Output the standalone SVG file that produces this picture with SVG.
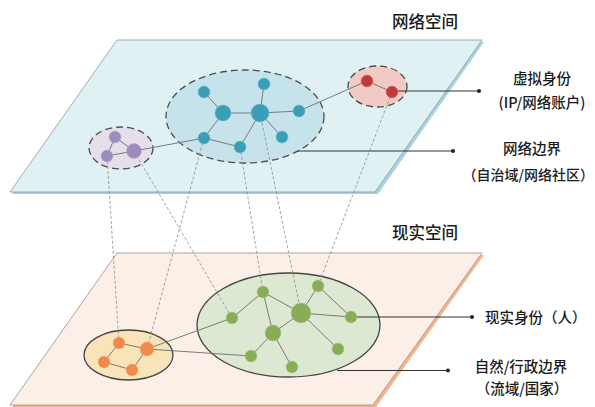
<svg xmlns="http://www.w3.org/2000/svg" width="595" height="407" viewBox="0 0 595 407">
  <style>
    .title { font-family: "Noto Sans CJK SC", "Noto Sans", sans-serif; font-size: 16.5px; font-weight: 500; fill: #1a1a1a; }
    .label { font-family: "Noto Sans CJK SC", "Noto Sans", sans-serif; font-size: 14.5px; font-weight: 500; fill: #1a1a1a; }
    .edge { stroke: #7a7a7a; stroke-width: 1; fill: none; }
    .link { stroke: #8a8a8a; stroke-width: 0.8; stroke-dasharray: 3 2; fill: none; }
    .leader { stroke: #333; stroke-width: 1.2; fill: none; }
    .dot { fill: #222; }
    .zone-dash { stroke: #4d4d4d; stroke-width: 1.3; stroke-dasharray: 7 4; }
    .zone-solid { stroke: #444; stroke-width: 1.3; }
    .cyan { fill: #3a9fb6; stroke: #6dbccc; stroke-width: 0.6; }
    .purple { fill: #9c8bbd; stroke: #bcaed6; stroke-width: 0.6; }
    .red { fill: #c03a3c; stroke: #d97a78; stroke-width: 0.6; }
    .orange { fill: #ee8a4a; stroke: #f5b184; stroke-width: 0.6; }
    .green { fill: #88ad58; stroke: #aecb88; stroke-width: 0.6; }
  </style>

  <!-- planes -->
  <g id="plane-real">
    <polygon points="119,255 484,255 376,407 12,407" fill="#f3b48c"/>
    <polygon points="117,253 482,253 373,405 10,405" fill="#fcefe8" stroke="#9a8f8a" stroke-width="0.8"/>
  </g>
  <g id="plane-cyber">
    <polygon points="119,42 484,42 378,194 12,194" fill="#a7d2de"/>
    <polygon points="117,40 482,40 375,192 10,192" fill="#e0f1f3" stroke="#8d9a9e" stroke-width="0.8"/>
  </g>

  <!-- zones -->
  <g id="zone-purple"><ellipse cx="121" cy="148" rx="32" ry="21" fill="#e6dfe9" class="zone-dash"/></g>
  <g id="zone-cyan"><ellipse cx="245" cy="116.5" rx="79" ry="46.5" fill="#c6e3eb" class="zone-dash"/></g>
  <g id="zone-red"><ellipse cx="377.5" cy="86.5" rx="29.5" ry="20.5" fill="#f1cac4" class="zone-dash"/></g>
  <g id="zone-yellow"><ellipse cx="128.5" cy="355" rx="44.5" ry="25" fill="#f8e4b8" class="zone-solid"/></g>
  <g id="zone-green"><ellipse cx="288.5" cy="325" rx="91.5" ry="52" fill="#dde8d3" class="zone-solid"/></g>

  <!-- connectors -->
  <g id="connectors">
    <!-- links between the two spaces -->
    <line class="link" x1="107" y1="156" x2="119" y2="343"/>
    <line class="link" x1="134" y1="151" x2="232" y2="318"/>
    <line class="link" x1="204" y1="138" x2="147" y2="349"/>
    <line class="link" x1="240" y1="147" x2="263" y2="292"/>
    <line class="link" x1="260" y1="113" x2="301" y2="313"/>
    <line class="link" x1="392" y1="92" x2="318" y2="286"/>

    <!-- cyber space edges -->
    <line class="edge" x1="115" y1="137" x2="107" y2="156"/>
    <line class="edge" x1="107" y1="156" x2="134" y2="151"/>
    <line class="edge" x1="115" y1="137" x2="134" y2="151"/>
    <line class="edge" x1="134" y1="151" x2="204" y2="138"/>
    <line class="edge" x1="204" y1="92" x2="223" y2="113"/>
    <line class="edge" x1="223" y1="113" x2="260" y2="113"/>
    <line class="edge" x1="264" y1="84" x2="260" y2="113"/>
    <line class="edge" x1="260" y1="113" x2="299" y2="111"/>
    <line class="edge" x1="260" y1="113" x2="282" y2="137"/>
    <line class="edge" x1="223" y1="113" x2="204" y2="138"/>
    <line class="edge" x1="204" y1="138" x2="240" y2="147"/>
    <line class="edge" x1="240" y1="147" x2="260" y2="113"/>
    <line class="edge" x1="299" y1="111" x2="367" y2="81"/>
    <line class="edge" x1="367" y1="81" x2="392" y2="92"/>

    <!-- real space edges -->
    <line class="edge" x1="119" y1="343" x2="147" y2="349"/>
    <line class="edge" x1="119" y1="343" x2="104" y2="362"/>
    <line class="edge" x1="104" y1="362" x2="132" y2="370"/>
    <line class="edge" x1="132" y1="370" x2="147" y2="349"/>
    <line class="edge" x1="147" y1="349" x2="232" y2="318"/>
    <line class="edge" x1="147" y1="349" x2="251" y2="356"/>
    <line class="edge" x1="232" y1="318" x2="263" y2="292"/>
    <line class="edge" x1="263" y1="292" x2="301" y2="313"/>
    <line class="edge" x1="263" y1="292" x2="273" y2="333"/>
    <line class="edge" x1="273" y1="333" x2="301" y2="313"/>
    <line class="edge" x1="318" y1="286" x2="301" y2="313"/>
    <line class="edge" x1="318" y1="286" x2="351" y2="317"/>
    <line class="edge" x1="301" y1="313" x2="351" y2="317"/>
    <line class="edge" x1="301" y1="313" x2="338" y2="349"/>
    <line class="edge" x1="273" y1="333" x2="251" y2="356"/>
    <line class="edge" x1="273" y1="333" x2="292" y2="367"/>

    <!-- label leaders -->
    <line class="leader" x1="392" y1="91" x2="479" y2="91"/>
    <circle class="dot" cx="479" cy="91" r="2"/>
    <line class="leader" x1="298" y1="151" x2="453" y2="151"/>
    <circle class="dot" cx="453" cy="151" r="2"/>
    <line class="leader" x1="351" y1="317" x2="472" y2="317"/>
    <circle class="dot" cx="472" cy="317" r="2"/>
    <line class="leader" x1="337" y1="370.5" x2="448" y2="370.5"/>
    <circle class="dot" cx="448" cy="370.5" r="2"/>
  </g>

  <!-- cyber space nodes -->
  <g id="p1"><circle class="purple" cx="115" cy="137" r="6"/></g>
  <g id="p2"><circle class="purple" cx="107" cy="156" r="6"/></g>
  <g id="p3"><circle class="purple" cx="134" cy="151" r="7.5"/></g>
  <g id="c1"><circle class="cyan" cx="204" cy="92" r="6"/></g>
  <g id="c2"><circle class="cyan" cx="223" cy="113" r="8"/></g>
  <g id="c3"><circle class="cyan" cx="264" cy="84" r="6"/></g>
  <g id="c4"><circle class="cyan" cx="260" cy="113" r="9"/></g>
  <g id="c5"><circle class="cyan" cx="299" cy="111" r="6"/></g>
  <g id="c6"><circle class="cyan" cx="204" cy="138" r="6"/></g>
  <g id="c7"><circle class="cyan" cx="240" cy="147" r="6"/></g>
  <g id="c8"><circle class="cyan" cx="282" cy="137" r="6"/></g>
  <g id="r1"><circle class="red" cx="367" cy="81" r="6"/></g>
  <g id="r2"><circle class="red" cx="392" cy="92" r="6"/></g>

  <!-- real space nodes -->
  <g id="o1"><circle class="orange" cx="119" cy="343" r="6"/></g>
  <g id="o2"><circle class="orange" cx="147" cy="349" r="7"/></g>
  <g id="o3"><circle class="orange" cx="104" cy="362" r="6"/></g>
  <g id="o4"><circle class="orange" cx="132" cy="370" r="6"/></g>
  <g id="g1"><circle class="green" cx="232" cy="318" r="6"/></g>
  <g id="g2"><circle class="green" cx="263" cy="292" r="6"/></g>
  <g id="g3"><circle class="green" cx="301" cy="313" r="10"/></g>
  <g id="g4"><circle class="green" cx="318" cy="286" r="6"/></g>
  <g id="g5"><circle class="green" cx="351" cy="317" r="6"/></g>
  <g id="g6"><circle class="green" cx="273" cy="333" r="8"/></g>
  <g id="g7"><circle class="green" cx="251" cy="356" r="6"/></g>
  <g id="g8"><circle class="green" cx="292" cy="367" r="6"/></g>
  <g id="g9"><circle class="green" cx="338" cy="349" r="6"/></g>

  <!-- titles and labels -->
  <g id="title-cyber"><text class="title" x="425" y="28" text-anchor="middle">网络空间</text></g>
  <g id="title-real"><text class="title" x="425" y="239" text-anchor="middle">现实空间</text></g>
  <g id="label-virtual-id">
    <text class="label" x="542" y="84" text-anchor="middle">虚拟身份</text>
    <text class="label" x="542" y="108" text-anchor="middle">(IP/网络账户)</text>
  </g>
  <g id="label-cyber-border">
    <text class="label" x="532" y="154" text-anchor="middle">网络边界</text>
    <text class="label" x="594" y="180" text-anchor="end" style="font-size:14px">（自治域/网络社区）</text>
  </g>
  <g id="label-real-id">
    <text class="label" x="485" y="323" text-anchor="start">现实身份（人）</text>
  </g>
  <g id="label-real-border">
    <text class="label" x="521" y="372" text-anchor="middle">自然/行政边界</text>
    <text class="label" x="522" y="394" text-anchor="middle">（流域/国家）</text>
  </g>
</svg>
